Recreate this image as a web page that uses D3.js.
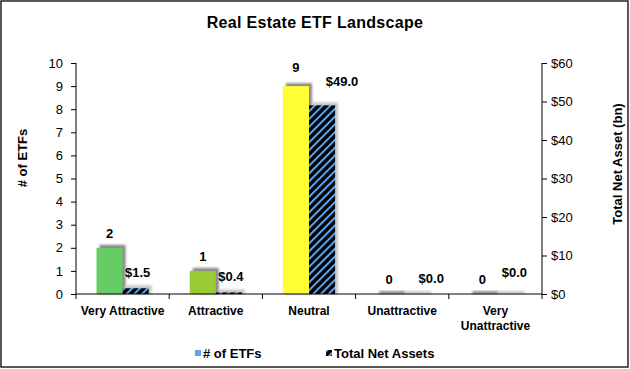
<!DOCTYPE html>
<html>
<head>
<meta charset="utf-8">
<script src="https://cdn.jsdelivr.net/npm/d3@7"></script>
<style>
  body { margin: 0; background: #fff; }
  text { font-family: "Liberation Sans", Arial, sans-serif; }
</style>
</head>
<body>
<div id="chart"></div>
<script>
// data
var categories = ["Very Attractive", "Attractive", "Neutral", "Unattractive", "Very Unattractive"];
var etfCounts = [2, 1, 9, 0, 0];
var netAssets = [1.5, 0.4, 49.0, 0, 0];
var countColors = ["#66cc66", "#99cc33", "#ffff33", "#ff9933", "#ff3333"];
var leftTicks = [0, 1, 2, 3, 4, 5, 6, 7, 8, 9, 10];
var rightTicks = [0, 10, 20, 30, 40, 50, 60];

var width = 630, height = 369;
var margin = {top: 63, right: 88, bottom: 75, left: 76};
var plotW = width - margin.left - margin.right,
    plotH = height - margin.top - margin.bottom;

var svg = d3.select("#chart")
  .append("svg")
    .attr("width", width)
    .attr("height", height);

// hatch for the net assets bars
var defs = svg.append("defs");
var pat = defs.append("pattern")
    .attr("id", "hatch")
    .attr("patternUnits", "userSpaceOnUse")
    .attr("width", 5.5)
    .attr("height", 6)
    .attr("patternTransform", "rotate(45)");
pat.append("rect").attr("width", 5.5).attr("height", 6).attr("fill", "#000");
pat.append("rect").attr("width", 2).attr("height", 6).attr("fill", "#5aa8f5");

var blur = defs.append("filter").attr("id", "soft")
    .attr("x", "-20%").attr("y", "-20%").attr("width", "140%").attr("height", "140%");
blur.append("feGaussianBlur").attr("stdDeviation", 1.2);

// outer frame
svg.append("rect")
    .attr("x", 1).attr("y", 1)
    .attr("width", width - 3).attr("height", height - 3)
    .attr("fill", "none")
    .attr("stroke", "#222")
    .attr("stroke-width", 1.5);

svg.append("text")
    .attr("x", width / 2)
    .attr("y", 28)
    .attr("text-anchor", "middle")
    .style("font-size", "16px")
    .style("font-weight", "bold")
    .style("letter-spacing", "0.3px")
    .text("Real Estate ETF Landscape");

var g = svg.append("g")
    .attr("transform", "translate(" + margin.left + "," + margin.top + ")");

// scales
var x = d3.scaleBand()
    .domain(categories)
    .range([0, plotW])
    .paddingInner(0.44)
    .paddingOuter(0.22);

var xSub = d3.scaleBand()
    .domain(["count", "assets"])
    .range([0, x.bandwidth()]);

var yLeft = d3.scaleLinear().domain([0, 10]).range([plotH, 0]);
var yRight = d3.scaleLinear().domain([0, 60]).range([plotH, 0]);

// shadows
categories.forEach(function(c, i) {
  var x0 = x(c) + xSub("count");
  g.append("rect")
      .attr("x", x0 + 3)
      .attr("y", yLeft(etfCounts[i]) - 3)
      .attr("width", xSub.bandwidth())
      .attr("height", plotH - yLeft(etfCounts[i]) + 3)
      .attr("fill", "#8a8a8a")
      .attr("filter", "url(#soft)");
  var x1 = x(c) + xSub("assets");
  g.append("rect")
      .attr("x", x1 + 3)
      .attr("y", yRight(netAssets[i]) - 3)
      .attr("width", xSub.bandwidth())
      .attr("height", plotH - yRight(netAssets[i]) + 3)
      .attr("fill", "#c8c8c8")
      .attr("filter", "url(#soft)");
});

// bars
g.selectAll(".bar-count")
  .data(categories)
  .enter().append("rect")
    .attr("class", "bar-count")
    .attr("x", function(d) { return x(d) + xSub("count"); })
    .attr("y", function(d, i) { return yLeft(etfCounts[i]); })
    .attr("width", xSub.bandwidth())
    .attr("height", function(d, i) { return plotH - yLeft(etfCounts[i]); })
    .attr("fill", function(d, i) { return countColors[i]; });

g.selectAll(".bar-assets")
  .data(categories)
  .enter().append("rect")
    .attr("class", "bar-assets")
    .attr("x", function(d) { return x(d) + xSub("assets"); })
    .attr("y", function(d, i) { return yRight(netAssets[i]); })
    .attr("width", xSub.bandwidth())
    .attr("height", function(d, i) { return plotH - yRight(netAssets[i]); })
    .attr("fill", "url(#hatch)");

// value labels (excel nudges some of them sideways)
g.selectAll(".lbl-count")
  .data(categories)
  .enter().append("text")
    .attr("x", function(d) { return x(d) + xSub("count") + xSub.bandwidth() / 2; })
    .attr("y", function(d, i) { return yLeft(etfCounts[i]) - (i == 2 ? 14 : 10); })
    .attr("text-anchor", "middle")
    .style("font-size", "13px")
    .style("font-weight", "bold")
    .text(function(d, i) { return etfCounts[i]; });

g.selectAll(".lbl-assets")
  .data(categories)
  .enter().append("text")
    .attr("x", function(d, i) {
      var nudge = i == 2 ? 20 : i == 3 ? 16 : i == 4 ? 6 : 2;
      return x(d) + xSub("assets") + xSub.bandwidth() / 2 + nudge;
    })
    .attr("y", function(d, i) { return yRight(netAssets[i]) - (i == 2 ? 19 : i == 4 ? 17 : 11); })
    .attr("text-anchor", "middle")
    .style("font-size", "13px")
    .style("font-weight", "bold")
    .text(function(d, i) { return "$" + netAssets[i].toFixed(1); });

// axes
var leftAxis = g.append("g")
    .call(d3.axisLeft(yLeft).tickValues(leftTicks).tickSize(5).tickPadding(8));
var rightAxis = g.append("g")
    .attr("transform", "translate(" + plotW + ",0)")
    .call(d3.axisRight(yRight).tickValues(rightTicks).tickSize(5).tickPadding(4)
      .tickFormat(function(d) { return "$" + d; }));

var bottomAxis = g.append("g")
    .attr("transform", "translate(0," + plotH + ")");
bottomAxis.append("line")
    .attr("x1", 0).attr("x2", plotW)
    .attr("stroke", "#000");
// ticks between the categories
bottomAxis.selectAll(".sep")
  .data(d3.range(categories.length + 1))
  .enter().append("line")
    .attr("x1", function(i) { return i * x.step(); })
    .attr("x2", function(i) { return i * x.step(); })
    .attr("y1", 0).attr("y2", 5)
    .attr("stroke", "#000");

[leftAxis, rightAxis].forEach(function(a) {
  a.selectAll("text").style("font-size", "13px").attr("fill", "#000");
  a.selectAll("line, path").attr("stroke", "#000");
  a.select(".domain").attr("d", "M0," + plotH + "V0");
});

// category labels, wrapped
categories.forEach(function(c) {
  var lines = c == "Very Unattractive" ? ["Very", "Unattractive"] : [c];
  var t = bottomAxis.append("text")
      .attr("x", x(c) + x.bandwidth() / 2)
      .attr("y", 21)
      .attr("text-anchor", "middle")
      .style("font-size", "12px")
      .style("font-weight", "bold");
  lines.forEach(function(l, j) {
    t.append("tspan")
        .attr("x", x(c) + x.bandwidth() / 2)
        .attr("dy", j == 0 ? 0 : 15)
        .text(l);
  });
});

// axis titles
svg.append("text")
    .attr("transform", "translate(27,158) rotate(-90)")
    .attr("text-anchor", "middle")
    .style("font-size", "13px")
    .style("font-weight", "bold")
    .text("# of ETFs");

svg.append("text")
    .attr("transform", "translate(622,164) rotate(-90)")
    .attr("text-anchor", "middle")
    .style("font-size", "13px")
    .style("font-weight", "bold")
    .text("Total Net Asset (bn)");

// legend
var legendItems = ["# of ETFs", "Total Net Assets"];
var legendX = [195, 326];
legendItems.forEach(function(name, i) {
  var lg = svg.append("g").attr("transform", "translate(" + legendX[i] + ",350)");
  lg.append("rect")
      .attr("width", 6).attr("height", 6)
      .attr("fill", i == 0 ? "#5aa8f5" : "url(#hatch)");
  lg.append("text")
      .attr("x", 8).attr("y", 8)
      .style("font-size", "13px")
      .style("font-weight", "bold")
      .text(name);
});
</script>
</body>
</html>
